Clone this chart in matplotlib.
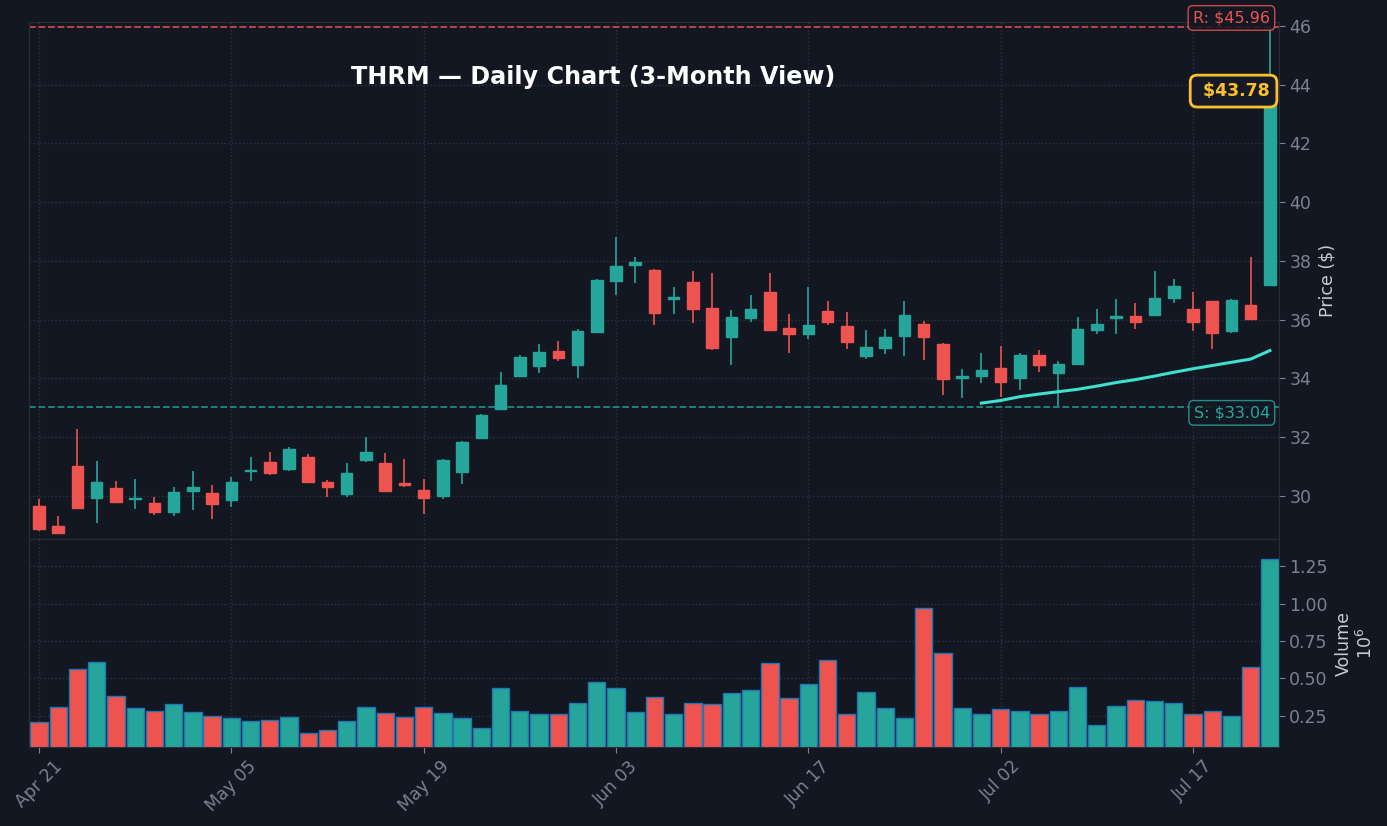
"""THRM daily candlestick chart, three month view, with volume panel."""
import matplotlib
matplotlib.use("Agg")
import matplotlib.pyplot as plt
import numpy as np

BG = "#131722"
UP = "#26a69a"
DOWN = "#ef5350"
GRID = "#2f3341"
TICK = "#7d8190"

opens = [29.66, 28.98, 31.02, 29.94, 30.27, 29.90, 29.76, 29.47, 30.16, 30.10,
         29.85, 30.84, 31.16, 30.92, 31.33, 30.48, 30.08, 31.23, 31.12, 30.43,
         30.20, 30.01, 30.80, 31.98, 32.96, 34.09, 34.44, 34.94, 34.47, 35.59,
         37.30, 37.85, 37.69, 36.72, 37.28, 36.40, 35.42, 36.07, 36.94, 35.72,
         35.52, 36.30, 35.79, 34.78, 35.05, 35.46, 35.86, 35.17, 34.00, 34.10,
         34.36, 34.03, 34.79, 34.20, 34.50, 35.66, 36.05, 36.13, 36.17, 36.75,
         36.36, 36.63, 35.63, 36.49, 37.18]
highs = [29.89, 29.32, 32.27, 31.20, 30.50, 30.57, 29.98, 30.32, 30.84, 30.39,
         30.66, 31.34, 31.50, 31.66, 31.42, 30.55, 31.11, 32.00, 31.45, 31.25,
         30.59, 31.25, 31.88, 32.80, 34.23, 34.81, 35.18, 35.27, 35.67, 37.40,
         38.81, 38.13, 37.72, 37.10, 37.67, 37.58, 36.33, 36.85, 37.60, 36.20,
         37.10, 36.63, 36.25, 35.64, 35.70, 36.65, 35.97, 35.20, 34.33, 34.86,
         35.12, 34.85, 34.96, 34.61, 36.10, 36.36, 36.72, 36.58, 37.67, 37.38,
         36.93, 36.65, 36.70, 38.13, 45.96]
lows = [28.82, 28.71, 29.55, 29.07, 29.77, 29.57, 29.34, 29.32, 29.52, 29.21,
        29.62, 30.50, 30.73, 30.84, 30.45, 29.98, 29.96, 31.15, 30.14, 30.30,
        29.38, 29.89, 30.41, 31.95, 32.93, 34.07, 34.18, 34.59, 34.00, 35.57,
        36.83, 37.24, 35.81, 36.19, 35.88, 34.97, 34.45, 35.91, 35.61, 34.86,
        35.35, 35.81, 34.99, 34.65, 34.83, 34.77, 34.63, 33.44, 33.34, 33.84,
        33.36, 33.62, 34.22, 33.07, 34.45, 35.51, 35.50, 35.67, 36.15, 36.56,
        35.62, 34.99, 35.54, 36.02, 37.15]
closes = [28.89, 28.75, 29.59, 30.48, 29.80, 29.94, 29.47, 30.14, 30.29, 29.74,
          30.48, 30.88, 30.78, 31.60, 30.48, 30.29, 30.78, 31.50, 30.18, 30.37,
          29.94, 31.23, 31.84, 32.76, 33.78, 34.73, 34.90, 34.68, 35.62, 37.35,
          37.83, 37.96, 36.24, 36.76, 36.37, 35.05, 36.08, 36.36, 35.66, 35.53,
          35.82, 35.93, 35.25, 35.07, 35.41, 36.16, 35.42, 33.99, 34.10, 34.29,
          33.89, 34.80, 34.47, 34.48, 35.68, 35.86, 36.12, 35.91, 36.73, 37.14,
          35.93, 35.56, 36.66, 36.04, 43.78]
# volume in millions of shares
volumes = [0.205, 0.308, 0.564, 0.608, 0.380, 0.299, 0.282, 0.329, 0.275, 0.245,
           0.232, 0.214, 0.221, 0.241, 0.134, 0.154, 0.214, 0.308, 0.268, 0.241,
           0.308, 0.268, 0.235, 0.165, 0.436, 0.282, 0.261, 0.261, 0.335, 0.476,
           0.436, 0.275, 0.376, 0.261, 0.335, 0.329, 0.403, 0.423, 0.604, 0.369,
           0.463, 0.624, 0.261, 0.409, 0.302, 0.235, 0.974, 0.671, 0.302, 0.263,
           0.295, 0.282, 0.261, 0.282, 0.443, 0.190, 0.315, 0.355, 0.349, 0.335,
           0.261, 0.282, 0.250, 0.577, 1.303]
# 50-day moving average, visible from the 50th session on
sma_start = 49
sma50 = [33.16, 33.25, 33.38, 33.47, 33.55, 33.63, 33.74, 33.86, 33.96, 34.08,
         34.21, 34.33, 34.44, 34.55, 34.66, 34.95]

tick_pos = [0, 10, 20, 30, 40, 50, 60]
tick_labels = ["Apr 21", "May 05", "May 19", "Jun 03", "Jun 17", "Jul 02", "Jul 17"]

support = 33.04
resistance = 45.96


def style_axis(ax):
    ax.set_facecolor(BG)
    for s in ax.spines.values():
        s.set_color("#2a2e39")
    ax.yaxis.tick_right()
    ax.yaxis.set_label_position("right")
    ax.tick_params(colors=TICK, labelsize=12.5, length=4)
    ax.grid(True, color=GRID, linestyle=":", linewidth=1)
    ax.set_axisbelow(True)


def main():
    o = np.array(opens)
    c = np.array(closes)
    x = np.arange(len(o))
    up = c >= o
    colors = np.where(up, UP, DOWN)

    fig = plt.figure(figsize=(13.87, 8.26), dpi=100, facecolor=BG)
    ax = fig.add_axes([0.0209, 0.3475, 0.9012, 0.6259])
    axv = fig.add_axes([0.0209, 0.0956, 0.9012, 0.2518], sharex=ax)
    style_axis(ax)
    style_axis(axv)

    # candles
    ax.vlines(x, lows, highs, colors=colors, linewidth=1.2, zorder=2)
    ax.bar(x, np.abs(c - o), bottom=np.minimum(o, c), width=0.6,
           color=colors, edgecolor=colors, linewidth=1, zorder=3)

    ax.plot(np.arange(sma_start, sma_start + len(sma50)), sma50,
            color="#3fe0d0", linewidth=2.2, zorder=4)

    ax.axhline(resistance, color=DOWN, linestyle="--", linewidth=1.3, alpha=0.8)
    ax.axhline(support, color=UP, linestyle="--", linewidth=1.3, alpha=0.8)

    ax.text(64.0, 46.27, f"R: ${resistance:.2f}", color=DOWN, fontsize=11.5,
            ha="right", va="center", clip_on=False, zorder=6,
            bbox=dict(boxstyle="round,pad=0.3", fc=BG, ec=DOWN, alpha=0.85))
    ax.text(64.0, 32.83, f"S: ${support:.2f}", color=UP, fontsize=11.5,
            ha="right", va="center", zorder=6,
            bbox=dict(boxstyle="round,pad=0.3", fc=BG, ec=UP, alpha=0.85))
    ax.text(64.0, closes[-1], f" ${closes[-1]:.2f}", color="#fbc02d",
            fontsize=12.5, fontweight="bold", ha="right", va="center", zorder=7,
            bbox=dict(boxstyle="round,pad=0.4", fc="#161a27", ec="#fbc02d", lw=2))

    ax.text(0.451, 0.893, "THRM \u2014 Daily Chart (3-Month View)", transform=ax.transAxes,
            color="white", fontsize=17.2, fontweight="bold", ha="center", va="center")

    lo, hi = min(lows), max(highs)
    pad = 0.01 * (hi - lo)
    ax.set_ylim(lo - pad, hi + pad)
    ax.set_yticks(np.arange(30, 47, 2))
    ax.set_ylabel("Price ($)", color="#c8cbd4", fontsize=12.5, labelpad=5)
    ax.tick_params(axis="x", labelbottom=False, length=0)

    # volume
    axv.bar(x, volumes, width=0.9, color=colors, edgecolor="#1f77b4", linewidth=1)
    axv.set_ylim(0.3 * min(volumes), 1.1 * max(volumes))
    axv.set_yticks([0.25, 0.5, 0.75, 1.0, 1.25])
    axv.set_ylabel("Volume\n$10^{6}$", color="#c8cbd4", fontsize=12.5, labelpad=5)

    axv.set_xlim(-0.52, len(o) - 0.53)
    axv.set_xticks(tick_pos)
    axv.set_xticklabels(tick_labels, rotation=45, ha="center")

    fig.savefig("out.png", dpi=100, facecolor=BG)
    plt.close(fig)


if __name__ == "__main__":
    main()
